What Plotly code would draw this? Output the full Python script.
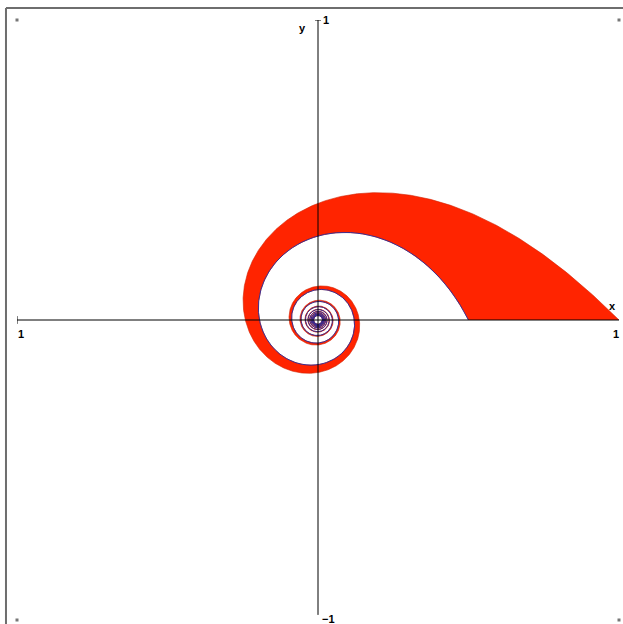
import numpy as np
import plotly.graph_objects as go

# Spiral band: outer edge r = 1/(1+t), inner edge r = 1/(2+t)
outer_offset = 1.0
inner_offset = 2.0
turns = 11
samples = 12000

# axis labels
label_text = ["1", "1", "x", "y", "1", "\u22121"]
label_x = [-0.987, 0.99, 0.98, -0.05, 0.028, 0.036]
label_y = [-0.047, -0.047, 0.047, 0.975, 1.0, -0.995]

corner_x = [-1, 1, -1, 1]
corner_y = [1, 1, -1, -1]

t = np.linspace(0, 2 * np.pi * turns, samples)
r_out = 1.0 / (outer_offset + t)
r_in = 1.0 / (inner_offset + t)
xo, yo = r_out * np.cos(t), r_out * np.sin(t)
xi, yi = r_in * np.cos(t), r_in * np.sin(t)

RED = "#ff2400"
fig = go.Figure()
fig.add_trace(go.Scatter(
    x=np.concatenate([xo, xi[::-1]]), y=np.concatenate([yo, yi[::-1]]),
    mode="lines", fill="toself", fillcolor=RED,
    line=dict(width=0.6, color="#d02000"), hoverinfo="skip", showlegend=False))
fig.add_trace(go.Scatter(
    x=xi, y=yi, mode="lines", line=dict(width=0.9, color="#2a2a9a"),
    hoverinfo="skip", showlegend=False))
fig.add_trace(go.Scatter(
    x=corner_x, y=corner_y, mode="markers",
    marker=dict(size=3, color="#777777", symbol="square"),
    cliponaxis=False, hoverinfo="skip", showlegend=False))

shapes = [
    dict(type="line", x0=-1, x1=1, y0=0, y1=0, line=dict(color="black", width=1)),
    dict(type="line", x0=-1, x1=-1, y0=-0.013, y1=0.013, line=dict(color="black", width=1)),
    dict(type="line", x0=0, x1=0, y0=1, y1=-0.983, line=dict(color="black", width=1)),
    dict(type="line", x0=-0.01, x1=0.01, y0=1, y1=1, line=dict(color="black", width=1)),
    dict(type="line", xref="paper", yref="paper", x0=-0.0183, x1=-0.0183, y0=1.02, y1=-0.05,
         line=dict(color="#6e6e6e", width=2)),
    dict(type="line", xref="paper", yref="paper", x0=-0.0183, x1=1.05, y0=1.02, y1=1.02,
         line=dict(color="#6e6e6e", width=2)),
]
for s in shapes:
    s["layer"] = "above"

annotations = [
    dict(x=x, y=y, xref="x", yref="y", text="<b>%s</b>" % txt, showarrow=False,
         font=dict(family="Liberation Sans, Arial", size=11, color="black"),
         xanchor="center", yanchor="middle")
    for txt, x, y in zip(label_text, label_x, label_y)
]

fig.update_layout(
    width=623, height=624,
    margin=dict(l=17, r=4, t=20, b=4),
    paper_bgcolor="white", plot_bgcolor="white",
    xaxis=dict(range=[-1, 1], visible=False, fixedrange=True),
    yaxis=dict(range=[-1, 1], visible=False, fixedrange=True),
    shapes=shapes, annotations=annotations, showlegend=False,
)
fig.write_html(
    "out.html",
    config={"displayModeBar": False},
    post_script="document.body.style.margin='0';document.body.style.overflow='hidden';",
)
